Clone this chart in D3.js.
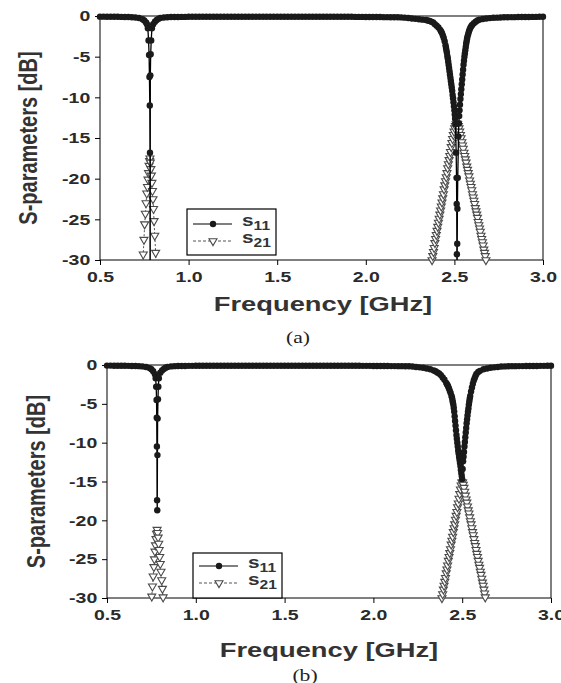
<!DOCTYPE html>
<html><head><meta charset="utf-8">
<script src="https://cdn.jsdelivr.net/npm/d3@7"></script>
<style>body{margin:0;background:#fff}</style>
</head><body><svg id="c" width="561" height="683"></svg>
<script>
// ---------- data ----------
const xTicks = [0.5, 1.0, 1.5, 2.0, 2.5, 3.0];
const yTicks = [0, -5, -10, -15, -20, -25, -30];
const seriesNames = ["11", "21"];

// shared flat parts of S11 (≈0 dB)
const S11_START = [[0.50,-0.08],[0.52,-0.08],[0.54,-0.09],[0.56,-0.09],[0.58,-0.1],[0.60,-0.1],[0.62,-0.11],[0.64,-0.12],[0.66,-0.13],[0.68,-0.15],[0.70,-0.18]];
const S11_MID = [[0.92,-0.12],[0.94,-0.12],[0.96,-0.11],[0.98,-0.11],[1.00,-0.1],[1.02,-0.1],[1.04,-0.1],[1.06,-0.1],[1.08,-0.1],[1.10,-0.1],[1.12,-0.1],[1.14,-0.1],[1.16,-0.1],[1.18,-0.1],[1.20,-0.1],[1.22,-0.1],[1.24,-0.1],[1.26,-0.1],[1.28,-0.1],[1.30,-0.1],[1.32,-0.1],[1.34,-0.1],[1.36,-0.1],[1.38,-0.1],[1.40,-0.1],[1.42,-0.1],[1.44,-0.1],[1.46,-0.1],[1.48,-0.1],[1.50,-0.1],[1.52,-0.1],[1.54,-0.1],[1.56,-0.1],[1.58,-0.1],[1.60,-0.1],[1.62,-0.1],[1.64,-0.1],[1.66,-0.1],[1.68,-0.1],[1.70,-0.1],[1.72,-0.1],[1.74,-0.1],[1.76,-0.1],[1.78,-0.1],[1.80,-0.1],[1.82,-0.1],[1.84,-0.1],[1.86,-0.1],[1.88,-0.1],[1.90,-0.1],[1.92,-0.1],[1.94,-0.11],[1.96,-0.11],[1.98,-0.11],[2.00,-0.12],[2.02,-0.12],[2.04,-0.12],[2.06,-0.13],[2.08,-0.13],[2.10,-0.14],[2.12,-0.14],[2.14,-0.15],[2.16,-0.15],[2.18,-0.16]];
const S11_END = [[2.84,-0.14],[2.86,-0.13],[2.88,-0.13],[2.90,-0.12],[2.92,-0.12],[2.94,-0.11],[2.96,-0.11],[2.98,-0.1],[3.00,-0.1]];

// panel (a)
const A_S11_DIP1 = [[0.72,-0.25],[0.74,-0.4],[0.75,-0.55],[0.76,-0.8],[0.765,-1.0],[0.77,-1.5],[0.774,-3.0],[0.777,-4.8],[0.779,-7.5],[0.781,-11.0],[0.782,-16.8],[0.783,-45],[0.784,-7.3],[0.786,-4.7],[0.789,-3.0],[0.793,-1.5],[0.80,-1.0],[0.81,-0.7],[0.82,-0.5],[0.83,-0.35],[0.84,-0.25],[0.86,-0.18],[0.88,-0.15],[0.90,-0.13]];
const A_S11_DIP2 = [[2.20,-0.17],[2.22,-0.2],[2.24,-0.25],[2.26,-0.3],[2.28,-0.35],[2.30,-0.4],[2.32,-0.45],[2.34,-0.5],[2.35,-0.55],[2.36,-0.6],[2.37,-0.7],[2.38,-0.8],[2.39,-1.0],[2.40,-1.2],[2.41,-1.4],[2.42,-1.7],[2.425,-1.9],[2.43,-2.1],[2.435,-2.4],[2.44,-2.7],[2.445,-3.1],[2.45,-3.6],[2.4525,-3.9],[2.455,-4.2],[2.4575,-4.5],[2.46,-4.9],[2.4625,-5.2],[2.465,-5.6],[2.4675,-6.0],[2.47,-6.4],[2.4725,-6.8],[2.475,-7.2],[2.4775,-7.6],[2.48,-8.0],[2.4825,-8.4],[2.485,-8.8],[2.4875,-9.2],[2.49,-9.7],[2.4925,-10.1],[2.495,-10.6],[2.4975,-11.1],[2.50,-11.6],[2.502,-12.1],[2.504,-12.6],[2.506,-13.3],[2.510,-16.8],[2.512,-19.9],[2.513,-23.1],[2.514,-29.3],[2.515,-42],[2.516,-28.0],[2.517,-23.7],[2.519,-19.9],[2.523,-14.8],[2.525,-13.2],[2.527,-12.3],[2.529,-11.6],[2.5315,-10.9],[2.534,-10.2],[2.5365,-9.6],[2.539,-9.0],[2.5415,-8.4],[2.544,-7.8],[2.5465,-7.2],[2.549,-6.6],[2.5515,-6.0],[2.554,-5.5],[2.5565,-5.0],[2.559,-4.6],[2.5615,-4.2],[2.564,-3.8],[2.5665,-3.4],[2.569,-3.1],[2.5715,-2.8],[2.574,-2.5],[2.578,-2.2],[2.582,-1.9],[2.586,-1.65],[2.59,-1.45],[2.595,-1.25],[2.60,-1.1],[2.61,-0.9],[2.62,-0.7],[2.63,-0.55],[2.64,-0.45],[2.66,-0.37],[2.68,-0.3],[2.70,-0.26],[2.72,-0.22],[2.74,-0.2],[2.76,-0.18],[2.78,-0.16],[2.80,-0.15],[2.82,-0.14]];
const A_S21_LOW = [[0.740,-31],[0.744,-29.3],[0.748,-27.5],[0.752,-25.6],[0.756,-24.3],[0.760,-23.0],[0.764,-21.8],[0.768,-21.0],[0.771,-20.1],[0.774,-19.3],[0.777,-18.4],[0.780,-17.8],[0.782,-17.5],[0.784,-18.0],[0.787,-18.8],[0.790,-19.6],[0.793,-20.5],[0.796,-21.5],[0.799,-22.5],[0.802,-23.7],[0.805,-25.2],[0.809,-27.0],[0.814,-29.1],[0.818,-31]];
const A_S21_HIGH = [[2.374,-30.0],[2.378,-29.5],[2.382,-29.0],[2.386,-28.5],[2.390,-27.9],[2.394,-27.4],[2.398,-26.9],[2.402,-26.4],[2.406,-25.9],[2.410,-25.4],[2.414,-24.9],[2.418,-24.4],[2.422,-23.9],[2.426,-23.4],[2.430,-22.9],[2.434,-22.4],[2.438,-21.9],[2.442,-21.3],[2.446,-20.8],[2.450,-20.3],[2.454,-19.8],[2.458,-19.3],[2.462,-18.7],[2.466,-18.2],[2.470,-17.7],[2.474,-17.2],[2.478,-16.7],[2.482,-16.1],[2.486,-15.6],[2.490,-15.1],[2.494,-14.6],[2.498,-14.2],[2.502,-13.8],[2.506,-13.5],[2.510,-13.3],[2.514,-13.2],[2.518,-13.3],[2.522,-13.5],[2.526,-13.8],[2.530,-14.2],[2.534,-14.6],[2.538,-15.0],[2.542,-15.5],[2.546,-15.9],[2.550,-16.3],[2.554,-16.8],[2.558,-17.2],[2.562,-17.6],[2.566,-18.0],[2.570,-18.5],[2.574,-18.9],[2.578,-19.3],[2.582,-19.7],[2.586,-20.2],[2.590,-20.6],[2.594,-21.0],[2.598,-21.4],[2.602,-21.9],[2.606,-22.3],[2.610,-22.7],[2.614,-23.1],[2.618,-23.6],[2.622,-24.0],[2.626,-24.4],[2.630,-24.8],[2.634,-25.3],[2.638,-25.7],[2.642,-26.1],[2.646,-26.5],[2.650,-27.0],[2.654,-27.4],[2.658,-27.8],[2.662,-28.2],[2.666,-28.7],[2.670,-29.1],[2.674,-29.5],[2.678,-30.0]];

// panel (b)
const B_S11_DIP1 = [[0.72,-0.25],[0.74,-0.4],[0.75,-0.55],[0.76,-0.8],[0.77,-1.2],[0.774,-1.7],[0.777,-2.8],[0.779,-4.5],[0.780,-6.8],[0.781,-10.5],[0.782,-17.4],[0.783,-18.7],[0.784,-11.6],[0.785,-6.9],[0.787,-4.4],[0.789,-2.8],[0.792,-1.7],[0.80,-1.0],[0.81,-0.7],[0.82,-0.5],[0.83,-0.35],[0.84,-0.25],[0.86,-0.18],[0.88,-0.15],[0.90,-0.13]];
const B_S11_DIP2 = [[2.20,-0.17],[2.22,-0.2],[2.24,-0.25],[2.26,-0.3],[2.28,-0.35],[2.30,-0.45],[2.32,-0.55],[2.34,-0.7],[2.35,-0.8],[2.36,-0.95],[2.37,-1.1],[2.38,-1.3],[2.39,-1.6],[2.40,-1.9],[2.41,-2.3],[2.415,-2.5],[2.42,-2.7],[2.425,-3.0],[2.43,-3.3],[2.435,-3.6],[2.44,-4.0],[2.4425,-4.2],[2.445,-4.5],[2.4475,-4.8],[2.45,-5.1],[2.4525,-5.5],[2.455,-6.0],[2.4575,-6.6],[2.46,-7.2],[2.4625,-7.8],[2.465,-8.4],[2.4675,-9.0],[2.47,-9.5],[2.4725,-10.0],[2.475,-10.5],[2.4775,-11.0],[2.48,-11.4],[2.4825,-11.8],[2.485,-12.2],[2.4875,-12.6],[2.49,-13.0],[2.4925,-13.5],[2.495,-13.9],[2.4975,-14.3],[2.50,-14.7],[2.5025,-13.4],[2.505,-12.4],[2.5075,-11.8],[2.51,-11.2],[2.5125,-10.5],[2.515,-9.9],[2.5175,-9.3],[2.52,-8.7],[2.5225,-8.1],[2.525,-7.5],[2.5275,-7.0],[2.53,-6.5],[2.5325,-6.0],[2.535,-5.6],[2.5375,-5.1],[2.54,-4.7],[2.5425,-4.3],[2.545,-4.0],[2.55,-3.4],[2.555,-2.9],[2.56,-2.4],[2.565,-2.0],[2.57,-1.7],[2.575,-1.4],[2.58,-1.15],[2.59,-0.9],[2.60,-0.75],[2.62,-0.55],[2.64,-0.45],[2.66,-0.35],[2.68,-0.3],[2.70,-0.25],[2.72,-0.2],[2.74,-0.18],[2.76,-0.16],[2.78,-0.15],[2.80,-0.15],[2.82,-0.14]];
const B_S21_LOW = [[0.748,-31],[0.752,-29.8],[0.756,-28.5],[0.760,-27.2],[0.764,-26.0],[0.767,-25.0],[0.770,-24.0],[0.773,-23.2],[0.776,-22.4],[0.779,-21.7],[0.782,-21.2],[0.785,-21.6],[0.788,-22.2],[0.791,-23.0],[0.794,-23.8],[0.797,-24.7],[0.800,-25.6],[0.804,-26.6],[0.808,-27.7],[0.812,-28.8],[0.816,-29.9],[0.820,-31]];
const B_S21_HIGH = [[2.386,-30.0],[2.390,-29.5],[2.394,-28.9],[2.398,-28.4],[2.402,-27.9],[2.406,-27.4],[2.410,-26.8],[2.414,-26.3],[2.418,-25.8],[2.422,-25.2],[2.426,-24.7],[2.430,-24.2],[2.434,-23.7],[2.438,-23.1],[2.442,-22.6],[2.446,-22.1],[2.450,-21.5],[2.454,-21.0],[2.458,-20.5],[2.462,-19.9],[2.466,-19.4],[2.470,-18.9],[2.474,-18.3],[2.478,-17.8],[2.482,-17.2],[2.486,-16.6],[2.490,-16.0],[2.494,-15.5],[2.498,-15.1],[2.502,-15.1],[2.506,-15.4],[2.510,-15.8],[2.514,-16.3],[2.518,-16.8],[2.522,-17.3],[2.526,-17.7],[2.530,-18.2],[2.534,-18.7],[2.538,-19.1],[2.542,-19.6],[2.546,-20.1],[2.550,-20.5],[2.554,-21.0],[2.558,-21.5],[2.562,-21.9],[2.566,-22.4],[2.570,-22.9],[2.574,-23.3],[2.578,-23.8],[2.582,-24.3],[2.586,-24.7],[2.590,-25.2],[2.594,-25.7],[2.598,-26.1],[2.602,-26.6],[2.606,-27.0],[2.610,-27.5],[2.614,-28.0],[2.618,-28.4],[2.622,-28.9],[2.626,-29.4],[2.630,-29.9]];

// ---------- drawing ----------
const svg = d3.select("#c");
const FONT = "'Liberation Sans', Arial, sans-serif";
const SX = 1.3; // horizontal text stretch seen in the reference

const panels = [
  { id:"a", s11:[...S11_START, ...A_S11_DIP1, ...S11_MID, ...A_S11_DIP2, ...S11_END],
    s21:[A_S21_LOW, A_S21_HIGH],
    l:100, r:543, t:16, b:260, yTitleX:28, xTitleX:323, xTitleY:311, tag:"(a)", tagX:298, tagY:343,
    leg:{x:187, y:209, w:89, h:46, r1:15, r2:32} },
  { id:"b", s11:[...S11_START, ...B_S11_DIP1, ...S11_MID, ...B_S11_DIP2, ...S11_END],
    s21:[B_S21_LOW, B_S21_HIGH],
    l:107, r:551, t:365, b:598, yTitleX:36, xTitleX:329, xTitleY:657, tag:"(b)", tagX:305, tagY:681,
    leg:{x:193, y:553, w:89, h:45, r1:13, r2:30} }
];

function tri(g, cx, cy) {
  g.append("path").attr("d", d3.symbol().type(d3.symbolTriangle).size(28)())
    .attr("transform", `translate(${cx},${cy}) rotate(180)`)
    .attr("fill", "#fff").attr("stroke", "#4a4a4a").attr("stroke-width", 1.1);
}

panels.forEach(p => {
  const g = svg.append("g");
  const x = d3.scaleLinear().domain([0.5, 3]).range([p.l, p.r]);
  const y = d3.scaleLinear().domain([-30, 0]).range([p.b, p.t]);
  const cid = "clip-" + p.id;
  svg.append("clipPath").attr("id", cid).append("rect")
    .attr("x", p.l - 6).attr("y", p.t - 8).attr("width", p.r - p.l + 12).attr("height", p.b - p.t + 8);

  // axes
  const xa = g.append("g").attr("transform", `translate(0,${p.b})`)
    .call(d3.axisBottom(x).tickValues(xTicks).tickFormat(d3.format(".1f")).tickSize(5).tickSizeOuter(0));
  const ya = g.append("g").attr("transform", `translate(${p.l},0)`)
    .call(d3.axisLeft(y).tickValues(yTicks).tickFormat(d => String(d)).tickSize(5).tickSizeOuter(0));
  [xa, ya].forEach(a => {
    a.select(".domain").remove();
    a.selectAll(".tick line").attr("stroke", "#000");
    a.selectAll("text").style("font-family", FONT).style("font-weight", "bold")
      .style("font-size", "15px").attr("fill", "#2a2a2a").attr("transform", `scale(${SX},1)`);
  });
  xa.selectAll("text").attr("y", 11);
  ya.selectAll("text").attr("x", -7.5);

  // frame
  g.append("rect").attr("x", p.l).attr("y", p.t).attr("width", p.r - p.l).attr("height", p.b - p.t)
    .attr("fill", "none").attr("stroke", "#000").attr("stroke-width", 1);

  const line = d3.line().x(d => x(d[0])).y(d => y(d[1]));
  const inRange = d => d[1] >= -30.3 && d[1] <= 0.5;

  // S21
  p.s21.forEach(seg => {
    g.append("path").datum(seg).attr("d", line).attr("fill", "none")
      .attr("stroke", "#555").attr("stroke-width", 1).attr("stroke-dasharray", "2,2")
      .attr("clip-path", `url(#${cid})`);
  });
  const mg = g.append("g");
  p.s21.forEach(seg => seg.filter(inRange).forEach(d => tri(mg, x(d[0]), y(d[1]))));

  // S11
  g.append("path").datum(p.s11).attr("d", line).attr("fill", "none")
    .attr("stroke", "#000").attr("stroke-width", 1.3).attr("clip-path", `url(#${cid})`);
  g.append("g").selectAll("circle").data(p.s11.filter(inRange)).join("circle")
    .attr("cx", d => x(d[0])).attr("cy", d => y(d[1])).attr("r", 3.2).attr("fill", "#1a1a1a");

  // axis titles
  g.append("text").text("S-parameters [dB]")
    .attr("transform", `translate(${p.yTitleX},${(p.t + p.b) / 2}) rotate(-90) scale(1,${SX})`)
    .attr("text-anchor", "middle").attr("dy", "0.36em")
    .style("font-family", FONT).style("font-weight", "bold").style("font-size", "20px").attr("fill", "#333");
  g.append("text").text("Frequency [GHz]")
    .attr("transform", `translate(${p.xTitleX},${p.xTitleY}) scale(${SX},1)`)
    .attr("text-anchor", "middle")
    .style("font-family", FONT).style("font-weight", "bold").style("font-size", "21px").attr("fill", "#333");
  g.append("text").text(p.tag)
    .attr("transform", `translate(${p.tagX},${p.tagY}) scale(1.35,1)`)
    .attr("text-anchor", "middle")
    .style("font-family", "'Liberation Serif', 'Times New Roman', serif").style("font-size", "16px").attr("fill", "#222");

  // legend
  const L = p.leg;
  const lg = g.append("g");
  lg.append("rect").attr("x", L.x).attr("y", L.y).attr("width", L.w).attr("height", L.h)
    .attr("fill", "#fff").attr("stroke", "#000").attr("stroke-width", 1.2);
  const rows = [L.y + L.r1, L.y + L.r2];
  lg.append("line").attr("x1", L.x + 6).attr("x2", L.x + 45).attr("y1", rows[0]).attr("y2", rows[0])
    .attr("stroke", "#000").attr("stroke-width", 1.2);
  lg.append("circle").attr("cx", L.x + 26).attr("cy", rows[0]).attr("r", 3.2).attr("fill", "#1a1a1a");
  lg.append("line").attr("x1", L.x + 6).attr("x2", L.x + 45).attr("y1", rows[1]).attr("y2", rows[1])
    .attr("stroke", "#555").attr("stroke-width", 1).attr("stroke-dasharray", "3,2");
  tri(lg, L.x + 26, rows[1]);
  seriesNames.forEach((nm, i) => {
    const t = lg.append("text")
      .attr("transform", `translate(${L.x + 55},${rows[i] + 2}) scale(${SX},1)`)
      .style("font-family", FONT).style("font-weight", "bold").attr("fill", "#333");
    t.append("tspan").text("s").style("font-size", "16px");
    t.append("tspan").text(nm).attr("dy", 4).style("font-size", "12px");
  });
});
</script>
</body></html>
